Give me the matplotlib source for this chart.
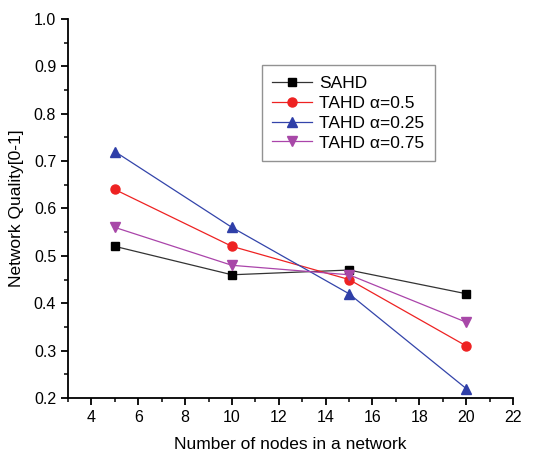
import matplotlib
matplotlib.use('Agg')
import matplotlib.pyplot as plt
from matplotlib.ticker import MultipleLocator

# data
nodes = [5, 10, 15, 20]
sahd = [0.52, 0.46, 0.47, 0.42]
tahd_05 = [0.64, 0.52, 0.45, 0.31]
tahd_025 = [0.72, 0.56, 0.42, 0.22]
tahd_075 = [0.56, 0.48, 0.46, 0.36]

plt.rcParams['font.family'] = ['Liberation Sans', 'DejaVu Sans']

fig = plt.figure(figsize=(5.46, 4.53), dpi=100)
ax = fig.add_axes([0.1245, 0.1214, 0.815, 0.837])

ax.plot(nodes, sahd, color='#333333', lw=0.9, marker='s', ms=5.5,
        mfc='black', mec='black', label='SAHD')
ax.plot(nodes, tahd_05, color='#ee2222', lw=0.9, marker='o', ms=6.5,
        mfc='#ee2222', mec='#ee2222', label='TAHD \u03b1=0.5')
ax.plot(nodes, tahd_025, color='#3344aa', lw=0.9, marker='^', ms=7.5,
        mfc='#2f3fa8', mec='#2f3fa8', label='TAHD \u03b1=0.25')
ax.plot(nodes, tahd_075, color='#aa44aa', lw=0.9, marker='v', ms=7.5,
        mfc='#a848a8', mec='#a848a8', label='TAHD \u03b1=0.75')

ax.set_xlim(3, 22)
ax.set_ylim(0.2, 1.0)
ax.xaxis.set_minor_locator(MultipleLocator(1))
ax.yaxis.set_minor_locator(MultipleLocator(0.05))
ax.set_xticks([4, 6, 8, 10, 12, 14, 16, 18, 20, 22])
ax.set_yticks([0.2, 0.3, 0.4, 0.5, 0.6, 0.7, 0.8, 0.9, 1.0])
ax.set_yticklabels(['0.2', '0.3', '0.4', '0.5', '0.6', '0.7', '0.8', '0.9', '1.0'])

ax.spines['top'].set_visible(False)
ax.spines['right'].set_visible(False)
ax.spines['left'].set_linewidth(1.3)
ax.spines['bottom'].set_linewidth(1.3)
ax.tick_params(which='major', direction='out', length=5, width=1.3, labelsize=11.5)
ax.tick_params(which='minor', direction='out', length=3, width=1.1)

ax.set_xlabel('Number of nodes in a network', fontsize=12.5, labelpad=9)
ax.set_ylabel('Network Quality[0-1]', fontsize=12.5, labelpad=7)

leg = ax.legend(loc='upper left', bbox_to_anchor=(0.416, 0.9), fontsize=12.5,
                frameon=True, fancybox=False, edgecolor='#777777',
                handlelength=2.3, borderpad=0.6, labelspacing=0.27,
                handletextpad=0.4)
leg.get_frame().set_linewidth(1.0)

fig.savefig('out.png', dpi=100)
